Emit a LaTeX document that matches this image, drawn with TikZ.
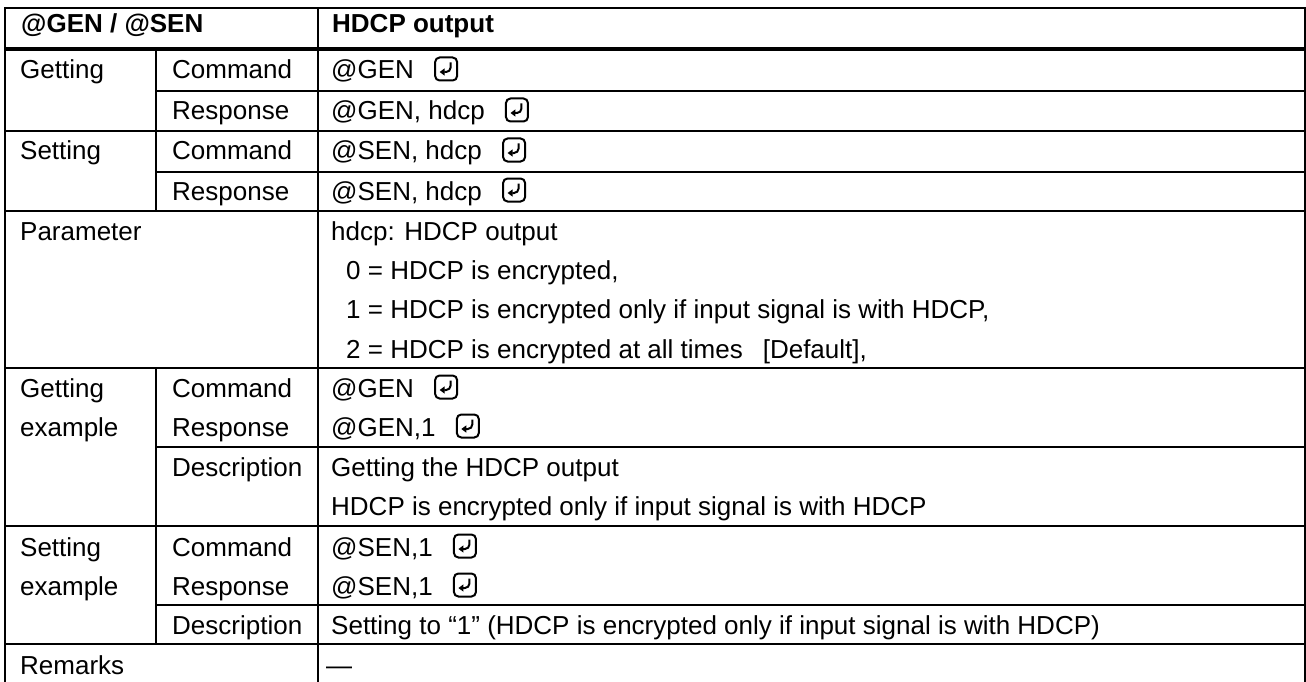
\documentclass[tikz,border=0pt]{standalone}
\usepackage{fontspec}
\setmainfont{Liberation Sans}
\usetikzlibrary{arrows.meta}

\tikzset{
  rule/.style={line width=2pt, line cap=rect},
  headrule/.style={line width=4pt},
  cell/.style={anchor=base west, inner sep=0pt, font=\fontsize{26pt}{31pt}\selectfont},
  headcell/.style={cell, font=\fontsize{26pt}{31pt}\selectfont\bfseries},
  retkey/.style={draw, line width=2pt, rounded corners=4.5pt, minimum width=22pt,
    minimum height=23pt, inner sep=0pt, anchor=west,
    path picture={
      \draw[line width=2pt, -{Triangle[length=5pt,width=7pt]}]
        ([xshift=4.5pt,yshift=6.5pt]path picture bounding box.center)
        -- ([xshift=4.5pt,yshift=-3pt]path picture bounding box.center)
        -- ([xshift=-6.5pt,yshift=-3pt]path picture bounding box.center);
    }},
}

% carriage-return key placed after a text node
\newcommand{\crkey}[2]{\node[retkey] (#1) at ([xshift=20pt,yshift=10pt]#2.base east) {};}

\begin{document}
\begin{tikzpicture}[x=1pt, y=-1pt]
\useasboundingbox (0,0) rectangle (1306,682);
\fill[white] (0,0) rectangle (1306,682);

% ---- grid ----
\draw[rule] (5,8) -- (1305,8);
\draw[headrule] (5,49) -- (1305,49);
\draw[rule] (156,91) -- (1305,91);
\draw[rule] (5,131) -- (1305,131);
\draw[rule] (156,172) -- (1305,172);
\draw[rule] (5,211) -- (1305,211);
\draw[rule] (5,368) -- (1305,368);
\draw[rule] (156,447) -- (1305,447);
\draw[rule] (5,526) -- (1305,526);
\draw[rule] (156,605) -- (1305,605);
\draw[rule] (5,644) -- (1305,644);

\draw[rule] (5,8) -- (5,690);
\draw[rule] (318,8) -- (318,690);
\draw[rule] (1305,8) -- (1305,690);
\draw[rule] (156,49) -- (156,211);
\draw[rule] (156,368) -- (156,644);

% ---- header ----
\node[headcell] (hL) at (21,33) {@GEN / @SEN};
\node[headcell] (hR) at (332,33) {HDCP output};

% ---- getting / setting ----
\node[cell] (g1) at (20,79) {Getting};
\node[cell] (g2) at (172,79) {Command};
\node[cell] (g3) at (331,79) {@GEN};
\crkey{k1}{g3}
\node[cell] (g4) at (172,120) {Response};
\node[cell] (g5) at (331,120) {@GEN, hdcp};
\crkey{k2}{g5}

\node[cell] (s1) at (20,160) {Setting};
\node[cell] (s2) at (172,160) {Command};
\node[cell] (s3) at (331,160) {@SEN, hdcp};
\crkey{k3}{s3}
\node[cell] (s4) at (172,200) {Response};
\node[cell] (s5) at (331,200) {@SEN, hdcp};
\crkey{k4}{s5}

% ---- parameter ----
\node[cell] (p0) at (20,240) {Parameter};
\node[cell] (p1) at (331,240) {hdcp: HDCP output};
\node[cell] (p2) at (346,279) {0 = HDCP is encrypted,};
\node[cell] (p3) at (346,318) {1 = HDCP is encrypted only if input signal is with HDCP,};
\node[cell] (p4) at (346,358) {2 = HDCP is encrypted at all times\hspace{20pt}[Default],};

% ---- getting example ----
\node[cell] (ge1) at (20,397) {Getting};
\node[cell] (ge2) at (20,436) {example};
\node[cell] (ge3) at (172,397) {Command};
\node[cell] (ge4) at (331,397) {@GEN};
\crkey{k5}{ge4}
\node[cell] (ge5) at (172,436) {Response};
\node[cell] (ge6) at (331,436) {@GEN,1};
\crkey{k6}{ge6}
\node[cell] (ge7) at (172,476) {Description};
\node[cell] (ge8) at (331,476) {Getting the HDCP output};
\node[cell] (ge9) at (331,515) {HDCP is encrypted only if input signal is with HDCP};

% ---- setting example ----
\node[cell] (se1) at (20,556) {Setting};
\node[cell] (se2) at (20,595) {example};
\node[cell] (se3) at (172,556) {Command};
\node[cell] (se4) at (331,556) {@SEN,1};
\crkey{k7}{se4}
\node[cell] (se5) at (172,595) {Response};
\node[cell] (se6) at (331,595) {@SEN,1};
\crkey{k8}{se6}
\node[cell] (se7) at (172,634) {Description};
\node[cell] (se8) at (331,634) {Setting to “1” (HDCP is encrypted only if input signal is with HDCP)};

% ---- remarks ----
\node[cell] (r1) at (20,674) {Remarks};
\node[cell] (r2) at (326,674) {—};
\end{tikzpicture}
\end{document}
